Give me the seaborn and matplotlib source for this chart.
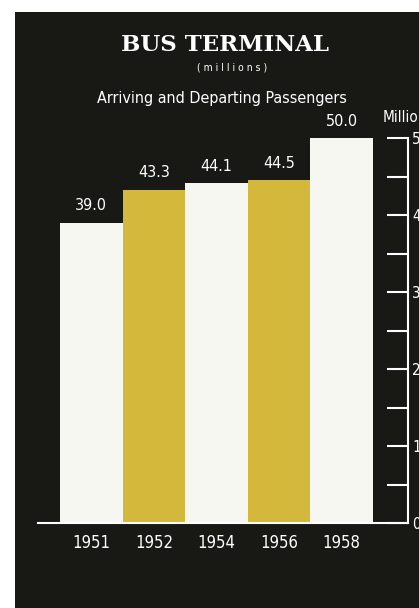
import matplotlib
matplotlib.use("Agg")
import matplotlib.pyplot as plt
from matplotlib.patches import Rectangle
import seaborn as sns
import pandas as pd

years = ["1951", "1952", "1954", "1956", "1958"]
passengers = [39.0, 43.3, 44.1, 44.5, 50.0]
bar_colors = ["#f7f7f2", "#d3b83c", "#f7f7f2", "#d3b83c", "#f7f7f2"]
axis_ticks = [0, 10, 20, 30, 40, 50]

bg = "#181815"
cond = dict(family="DejaVu Sans", stretch="condensed")

sns.set_style("dark")
df = pd.DataFrame({"year": years, "passengers": passengers})

fig = plt.figure(figsize=(4.19, 6.08), dpi=100)
fig.patch.set_facecolor("white")
fig.patches.append(Rectangle((15 / 419, 0), 1, 1 - 12 / 608, transform=fig.transFigure,
                             facecolor=bg, edgecolor="none", zorder=-5))

ax = fig.add_axes([38 / 419, 85 / 608, 370 / 419, 385 / 608])
ax.set_facecolor("none")
sns.barplot(data=df, x="year", y="passengers", hue="year", palette=bar_colors,
            width=1.0, legend=False, ax=ax, saturation=1, linewidth=0)
ax.set_xlim(-0.85, 5.06)
ax.set_ylim(0, 50)
ax.set_xlabel("")
ax.set_ylabel("")

for i, v in enumerate(passengers):
    ax.text(i, v + 1.2, f"{v:.1f}", ha="center", va="bottom", color="white",
            fontsize=11.5, **cond)

ax.tick_params(axis="x", length=0, pad=8, labelcolor="white", labelsize=12)
for lab in ax.get_xticklabels():
    lab.set_family("DejaVu Sans")
    lab.set_stretch("condensed")

ax.yaxis.tick_right()
ax.set_yticks(axis_ticks)
ax.set_yticks([5, 15, 25, 35, 45], minor=True)
ax.tick_params(axis="y", which="both", direction="in", length=15, width=1.5,
               color="white", labelcolor="white", labelsize=11, pad=3, right=True, left=False)
for lab in ax.get_yticklabels():
    lab.set_family("DejaVu Sans")
    lab.set_stretch("condensed")

for s in ["top", "left"]:
    ax.spines[s].set_visible(False)
ax.spines["right"].set_color("white")
ax.spines["right"].set_linewidth(1.5)
ax.spines["bottom"].set_color("white")
ax.spines["bottom"].set_linewidth(1.5)
ax.grid(False)

fig.text(225 / 419, 1 - 45 / 608, "BUS TERMINAL", ha="center", va="center",
         color="white", fontsize=16.5, fontweight="bold", family="DejaVu Serif")
fig.text(232 / 419, 1 - 68 / 608, "( m i l l i o n s )", ha="center", va="center",
         color="white", fontsize=7.5, **cond)
fig.text(222 / 419, 1 - 98 / 608, "Arriving and Departing Passengers", ha="center",
         va="center", color="white", fontsize=11.5, **cond)
fig.text(383 / 419, 1 - 117 / 608, "Millions", ha="left", va="center",
         color="white", fontsize=11, **cond)

fig.savefig("out.png", dpi=100, facecolor=fig.get_facecolor())
